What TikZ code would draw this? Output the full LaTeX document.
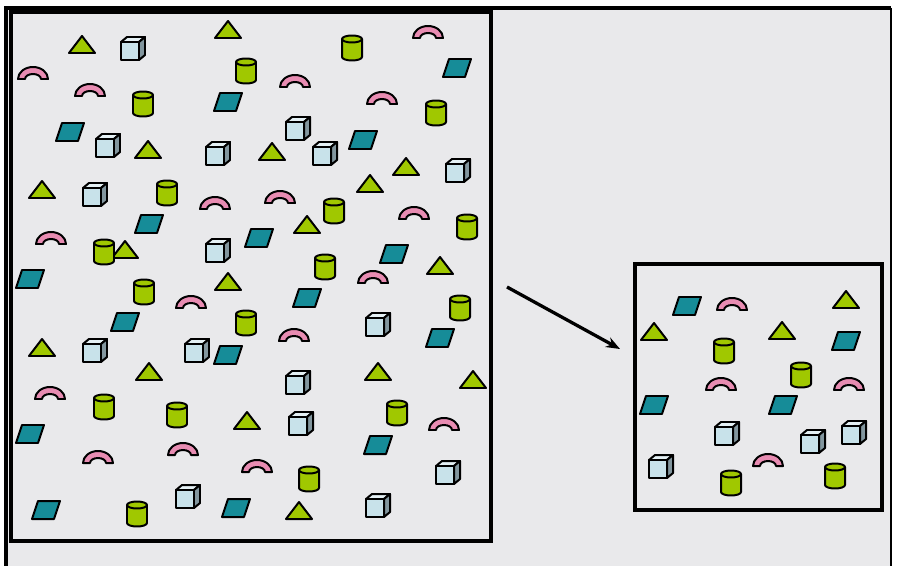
\documentclass[tikz,border=0pt]{standalone}
\usepackage{xcolor}
\usepackage{tikz}
\usetikzlibrary{arrows.meta, positioning}

\definecolor{paper}{RGB}{233,233,235}
\definecolor{lime}{RGB}{160,200,0}
\definecolor{icefront}{RGB}{200,226,234}
\definecolor{icetop}{RGB}{228,240,244}
\definecolor{iceside}{RGB}{130,150,158}
\definecolor{teal}{RGB}{22,140,152}
\definecolor{rose}{RGB}{232,140,178}

\begin{document}
\begin{tikzpicture}[
    x=0.03cm, y=0.03cm,
    >={Stealth[length=4.2mm, width=3.2mm]},
    outline/.style={draw=black, line width=1.7pt, line join=round},
    box/.style={
        draw,
        line width=2.8pt,
        inner sep=0pt
    },
    tri/.pic={
        \draw[outline, fill=lime] (-13,-8) -- (13,-8) -- (0,9) -- cycle;
    },
    cube/.pic={
        \draw[outline, fill=icetop] (-12,6) -- (-6,11) -- (12,11) -- (6,6) -- cycle;
        \draw[outline, fill=iceside] (6,6) -- (12,11) -- (12,-7) -- (6,-12) -- cycle;
        \draw[outline, fill=icefront] (-12,-12) rectangle (6,6);
    },
    can/.pic={
        \draw[outline, fill=lime] (-10,8) -- (-10,-10)
            arc[start angle=180, end angle=360, x radius=10, y radius=3.5] -- (10,8);
        \draw[outline, fill=lime] (0,8) ellipse[x radius=10, y radius=3.5];
    },
    para/.pic={
        \draw[outline, fill=teal] (-14,-9) -- (8,-9) -- (14,9) -- (-8,9) -- cycle;
    },
    arch/.pic={
        \draw[outline, fill=rose] (-15,-5)
            arc[start angle=180, end angle=0, x radius=15, y radius=12]
            -- (8,-5)
            arc[start angle=0, end angle=180, x radius=8, y radius=5] -- cycle;
    }
]
\useasboundingbox (0,0) rectangle (899,-566);

% Frame round the whole figure
\fill[paper] (6,-8) rectangle (891,-566);
\draw[line width=2.8pt] (6,-566) -- (6,-8) -- (891,-8);
\draw[line width=1.8pt] (891,-8) -- (891,-566);

% The two boxes
\node[box, minimum width=14.4cm, minimum height=15.87cm] (large) at (251,-276.5) {};
\node[box, minimum width=7.41cm, minimum height=7.38cm] (small) at (758.5,-387) {};

% Arrow from the large sample to the small one
\coordinate (from) at (507,-287);
\coordinate (to) at (620,-349);
\draw[->, line width=2.8pt] (from) -- (to);

% Triangles
\foreach \x/\y in {82/45, 228/30, 148/150, 272/152, 406/167, 42/190, 370/184,
    307/225, 125/250, 440/266, 228/282, 42/348, 149/372, 378/372, 473/380,
    247/421, 299/511, 846/300, 654/332, 782/331}
    \pic at (\x,-\y) {tri};

% Cubes
\foreach \x/\y in {133/48, 298/128, 108/145, 218/153, 325/153, 458/170, 95/194,
    218/250, 378/324, 95/350, 197/350, 298/382, 301/423, 448/472, 188/496,
    378/505, 727/433, 813/441, 854/432, 661/466}
    \pic at (\x,-\y) {cube};

% Cylinders
\foreach \x/\y in {352/47, 246/70, 143/103, 436/112, 167/192, 334/210, 467/226,
    104/251, 325/266, 144/291, 460/307, 246/322, 104/406, 177/414, 397/412,
    309/478, 137/513, 724/350, 801/374, 731/482, 835/475}
    \pic at (\x,-\y) {can};

% Parallelograms
\foreach \x/\y in {457/68, 228/102, 70/132, 363/140, 149/224, 259/238, 394/254,
    30/279, 307/298, 125/322, 440/338, 228/355, 30/434, 378/445, 46/510,
    236/508, 687/306, 846/341, 654/405, 783/405}
    \pic at (\x,-\y) {para};

% Arches
\foreach \x/\y in {428/33, 33/74, 295/82, 90/91, 382/99, 215/204, 280/198,
    414/214, 51/239, 373/278, 191/303, 294/336, 50/394, 444/425, 183/450,
    98/458, 257/467, 732/305, 721/385, 849/385, 768/461}
    \pic at (\x,-\y) {arch};

\end{tikzpicture}
\end{document}
